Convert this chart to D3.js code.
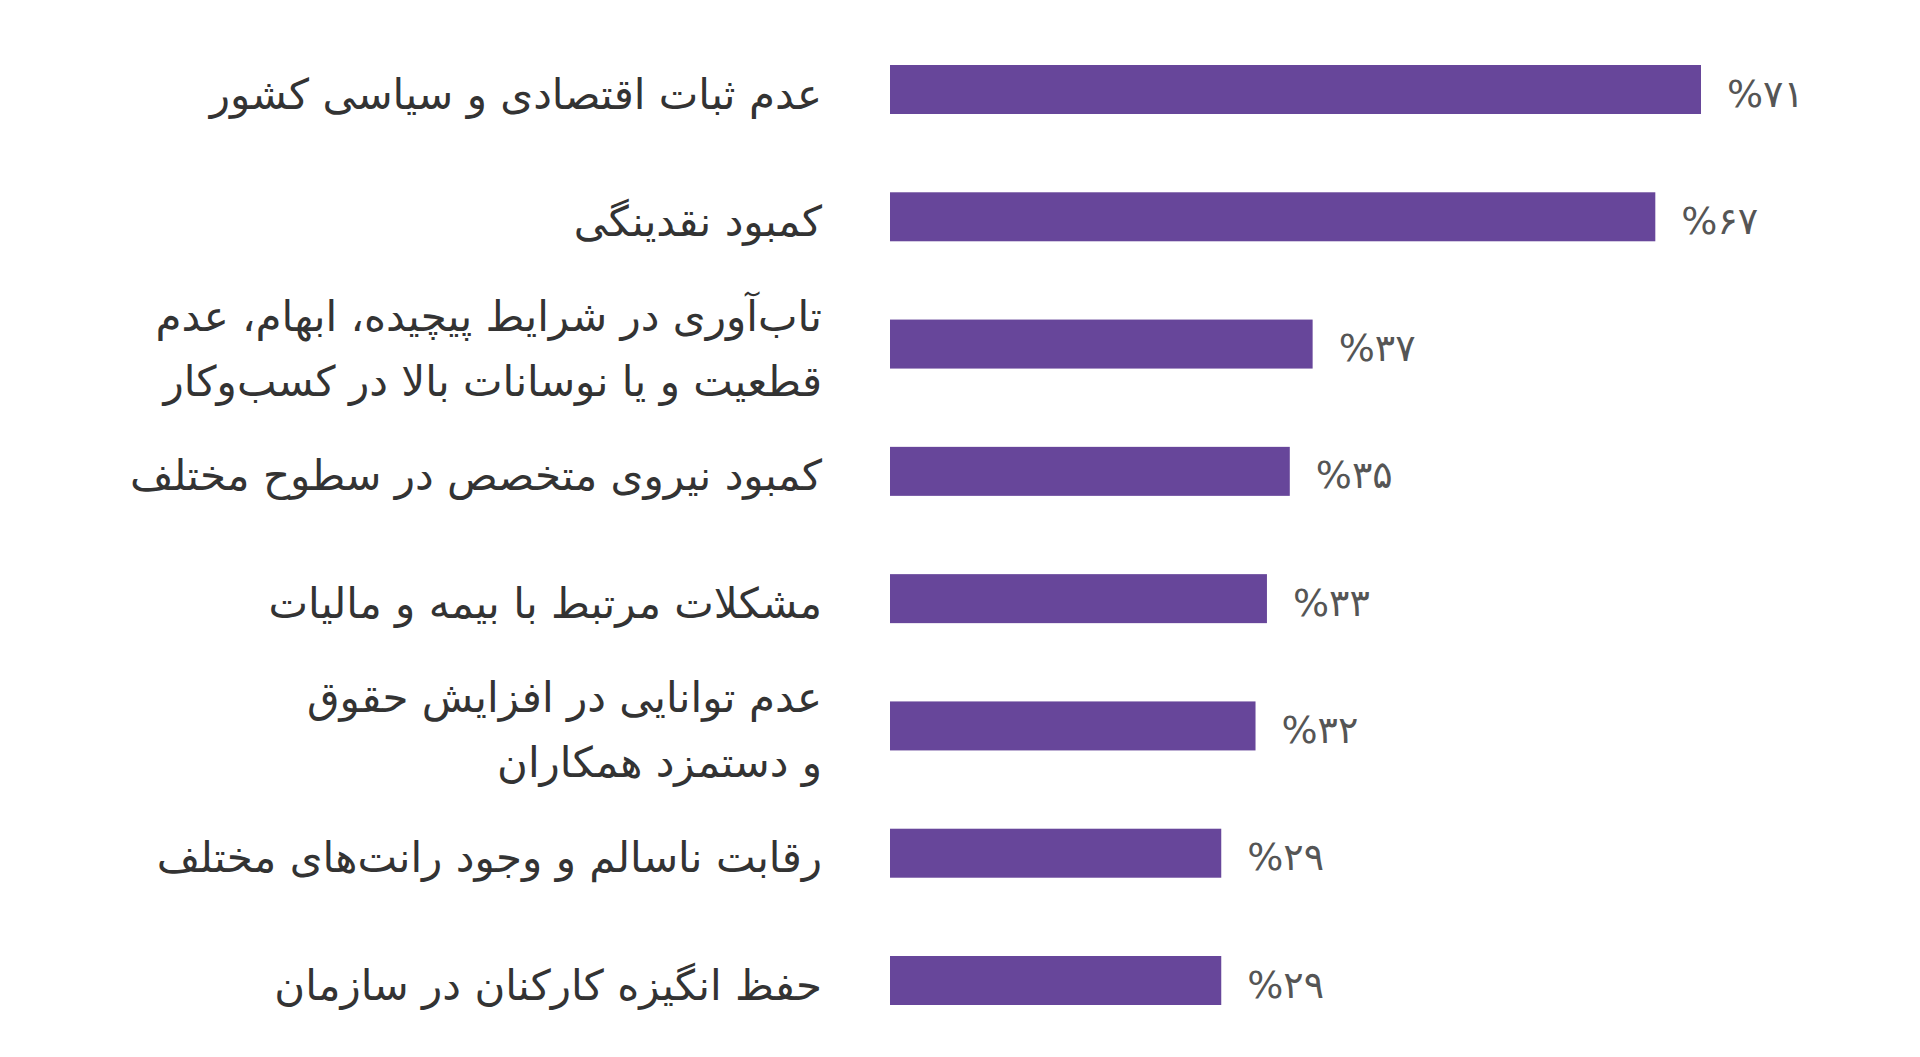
<!DOCTYPE html>
<html><head><meta charset="utf-8">
<script src="https://cdn.jsdelivr.net/npm/d3@7"></script>
<style>
html,body{margin:0;padding:0;background:#fff;}
svg{display:block;}
</style></head>
<body>
<script>
const categories = [
  ["عدم ثبات اقتصادی و سیاسی کشور"],
  ["کمبود نقدینگی"],
  ["تاب‌آوری در شرایط پیچیده، ابهام، عدم", "قطعیت و یا نوسانات بالا در کسب‌وکار"],
  ["کمبود نیروی متخصص در سطوح مختلف"],
  ["مشکلات مرتبط با بیمه و مالیات"],
  ["عدم توانایی در افزایش حقوق", "و دستمزد همکاران"],
  ["رقابت ناسالم و وجود رانت‌های مختلف"],
  ["حفظ انگیزه کارکنان در سازمان"]
];
const values = [71, 67, 37, 35, 33, 32, 29, 29];

const W = 1920, H = 1057;
const fa = n => String(n).replace(/\d/g, d => "۰۱۲۳۴۵۶۷۸۹"[d]);

const svg = d3.select("body").append("svg").attr("width", W).attr("height", H);
const idx = d3.range(categories.length);
const y = d3.scalePoint().domain(idx).range([89.5, 980.5]);
const x = d3.scaleLinear().domain([0, 71]).range([890, 1701]);
const barH = 49;

svg.append("g").selectAll("rect").data(idx).join("rect")
  .attr("x", x(0))
  .attr("y", i => y(i) - barH / 2)
  .attr("width", i => x(values[i]) - x(0))
  .attr("height", barH)
  .attr("fill", "#67469a");

svg.append("g").selectAll("text").data(idx).join("text")
  .attr("x", i => x(values[i]) + 26)
  .attr("y", i => y(i) + 4)
  .attr("dominant-baseline", "central")
  .attr("font-family", "'DejaVu Sans', 'Noto Sans', sans-serif")
  .attr("font-size", 38)
  .attr("fill", "#555")
  .text(i => "%" + fa(values[i]));

const lh = 65;
const lab = svg.append("g").selectAll("text").data(idx).join("text")
  .attr("direction", "rtl")
  .attr("text-anchor", "start")
  .attr("x", 822)
  .attr("font-family", "'DejaVu Sans', 'Noto Sans', sans-serif")
  .attr("font-size", 42)
  .attr("fill", "#333")
  .attr("dominant-baseline", "central");
lab.each(function(i) {
  const lines = categories[i];
  const t = d3.select(this);
  lines.forEach((l, k) => {
    t.append("tspan")
      .attr("x", 822)
      .attr("y", y(i) + 4 + (k - (lines.length - 1) / 2) * lh)
      .text(l);
  });
});
</script>
</body></html>
